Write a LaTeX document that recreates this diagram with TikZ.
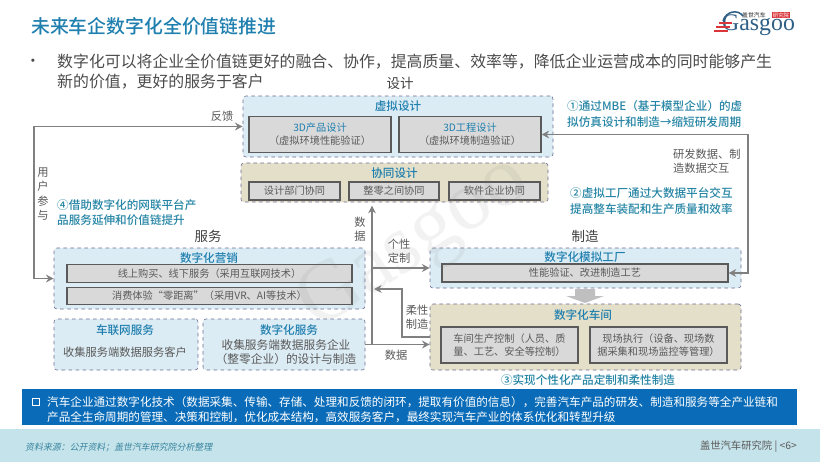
\documentclass[tikz,border=0pt]{standalone}
\usepackage{fontspec}
\setmainfont{Noto Sans CJK SC}[BoldFont={Noto Sans CJK SC Medium}]
\newfontfamily\slantcjk[FakeSlant=0.2]{Noto Sans CJK SC}
\newfontfamily\logofont{Liberation Serif}
\usetikzlibrary{arrows.meta}
\definecolor{titleblue}{HTML}{1F7FAF}
\definecolor{notegreen}{HTML}{2585A5}
\definecolor{inkgray}{HTML}{5A5A5A}
\definecolor{panelblue}{HTML}{DCECF4}
\definecolor{paneltan}{HTML}{E3DFC8}
\definecolor{boxgray}{HTML}{D9D9D9}
\definecolor{bandblue}{HTML}{0A6CB8}
\definecolor{footband}{HTML}{C5E3EA}
\definecolor{logored}{HTML}{D9353B}
\definecolor{logoblue}{HTML}{2F5F85}
\tikzset{
  panel/.style={draw=gray!85!blue,dashed,rounded corners=2.5pt,line width=.5pt},
  inbox/.style={draw=inkgray,fill=boxgray,line width=.9pt,text=inkgray,font=\fontsize{8.7}{11}\selectfont,align=center,inner sep=0pt},
  flow/.style={draw=gray,line width=1.2pt,-{Stealth[length=6.5pt,width=6.5pt]}},
  twoway/.style={flow,{Stealth[length=6.5pt,width=6.5pt]}-{Stealth[length=6.5pt,width=6.5pt]}},
  head/.style={text=titleblue,font=\fontsize{9.9}{12}\selectfont\bfseries},
  note/.style={text=notegreen,font=\fontsize{9.9}{13}\selectfont\bfseries,align=left,anchor=west,inner sep=0pt},
  lbl/.style={text=inkgray,font=\fontsize{9.6}{12}\selectfont,align=center,inner sep=0pt},
  side/.style={text=black!75,font=\fontsize{11.5}{14}\selectfont,inner sep=0pt}
}
\begin{document}
\begin{tikzpicture}[x=.3mm,y=-.3mm]
    \useasboundingbox (0,0) rectangle (820,462);
    \fill[white] (0,0) rectangle (820,462);
    \node[text=titleblue,anchor=west,inner sep=0pt,font=\fontsize{16.1}{20}\selectfont\bfseries] (title) at (31,26) {未来车企数字化全价值链推进};
    % logo
    \node[text=logoblue,anchor=west,inner sep=0pt,font=\fontsize{20.3}{21}\logofont\selectfont] (logoword) at (722,25) {Gasgoo};
    \node[text=black!70,anchor=west,inner sep=0pt,font=\fontsize{5}{6}\selectfont\bfseries] (logocn) at (742,15) {盖世汽车};
    \node[text=white,fill=logored,anchor=west,inner sep=.6pt,font=\fontsize{4.6}{5}\selectfont] (logored) at (772,15) {研究院};
    \draw[logored,line width=1.1pt] (719,23) -- (732,23);
    \draw[logored,line width=1.1pt] (716,27) -- (730,27);
    \draw[logored,line width=1.1pt] (714,31) -- (728,31);
    \draw[logoblue,line width=1.3pt] (723,21) .. controls (726,11) and (738,9) .. (743,16);
    % intro text
    \node[inkgray!80!black,anchor=center,inner sep=0pt,font=\fontsize{13}{17}\selectfont] (dot) at (33,63) {•};
    \node[text=inkgray!85!black,anchor=north west,align=left,inner sep=0pt,font=\fontsize{13.56}{17}\selectfont] (intro) at (57,54) {数字化可以将企业全价值链更好的融合、协作，提高质量、效率等，降低企业运营成本的同时能够产生\\新的价值，更好的服务于客户};
    \node[side] (design) at (400,83) {设计};
    % design panels
    \node[panel,fill=panelblue,minimum width=310*.3mm,minimum height=61*.3mm] (virt) at (398,126.5) {};
    \node[head] (virtt) at (398,106.5) {虚拟设计};
    \node[inbox,minimum width=142*.3mm,minimum height=36*.3mm] (prod) at (320,134.5) {\textcolor{titleblue}{3D产品设计}\\（虚拟环境性能验证）};
    \node[inbox,minimum width=142*.3mm,minimum height=36*.3mm] (eng) at (470,134.5) {\textcolor{titleblue}{3D工程设计}\\（虚拟环境制造验证）};
    \node[panel,fill=paneltan,minimum width=307*.3mm,minimum height=39*.3mm] (colla) at (394.5,182.5) {};
    \node[head] (collat) at (394.5,173) {协同设计};
    \node[inbox,minimum width=91*.3mm,minimum height=18*.3mm] (dept) at (294.5,191) {设计部门协同};
    \node[inbox,minimum width=90*.3mm,minimum height=18*.3mm] (parts) at (394,191) {整零之间协同};
    \node[inbox,minimum width=91*.3mm,minimum height=18*.3mm] (soft) at (494.5,191) {软件企业协同};
    % service panels
    \node[side] (service) at (208,236) {服务};
    \node[panel,fill=panelblue,minimum width=311*.3mm,minimum height=61*.3mm] (market) at (209.5,278.5) {};
    \node[head] (markett) at (209,258) {数字化营销};
    \node[inbox,minimum width=285*.3mm,minimum height=17.5*.3mm] (online) at (209.5,273.5) {线上购买、线下服务（采用互联网技术）};
    \node[inbox,minimum width=285*.3mm,minimum height=17.5*.3mm] (zero) at (209.5,296) {消费体验“零距离”（采用VR、AI等技术）};
    \node[panel,fill=panelblue,minimum width=144*.3mm,minimum height=51*.3mm] (iov) at (126,344.5) {};
    \node[head] (iovt) at (125,330) {车联网服务};
    \node[lbl] (iovx) at (125,352) {收集服务端数据服务客户};
    \node[panel,fill=panelblue,minimum width=162*.3mm,minimum height=51*.3mm] (digi) at (284,344.5) {};
    \node[head] (digit) at (289,330) {数字化服务};
    \node[lbl,font=\fontsize{10}{12}\selectfont] (digix) at (286,352) {收集服务端数据服务企业\\（整零企业）的设计与制造};
    % factory panels
    \node[side] (make) at (585,236) {制造};
    \node[panel,fill=panelblue,minimum width=311*.3mm,minimum height=40*.3mm] (sim) at (585.5,268) {};
    \node[head] (simt) at (585,257) {数字化模拟工厂};
    \node[inbox,minimum width=286*.3mm,minimum height=18*.3mm] (perf) at (585,273) {性能验证、改进制造工艺};
    \node[panel,fill=paneltan,minimum width=311*.3mm,minimum height=66*.3mm] (shop) at (585.5,337) {};
    \node[head] (shopt) at (583,315) {数字化车间};
    \node[inbox,minimum width=137*.3mm,minimum height=36*.3mm] (ctrl) at (509.5,345) {车间生产控制（人员、质\\量、工艺、安全等控制）};
    \node[inbox,minimum width=137*.3mm,minimum height=36*.3mm] (exec) at (658.5,345) {现场执行（设备、现场数\\据采集和现场监控等管理）};
    \fill[gray!50] (575,289) -- (595,289) -- (595,296) -- (604,296) -- (585,303) -- (566,296) -- (575,296) -- cycle;
    % connectors
    \coordinate (userline) at (34,200);
    \coordinate (rdline) at (748,200);
    \coordinate (hub) at (372,344);
    \coordinate (flexline) at (402,289);
    \draw[twoway] (market.west) -| (userline) |- (virt.west);
    \draw[twoway] (eng.east) -| (rdline) |- (perf.east);
    \draw[flow] (hub) -- ([yshift=-1mm]hub |- colla.south);
    \draw[flow] (hub |- sim.west) -- (sim.west);
    \draw[flow] (shop.west) -| (flexline) -- ([xshift=.6mm]hub |- flexline);
    \draw[flow] (digi.east) -- (digi.east -| shop.west);
    % labels
    \node[lbl] (feedback) at (222,116) {反馈};
    \node[lbl,font=\fontsize{9.6}{12.3}\selectfont] (userin) at (43,194) {用\\户\\参\\与};
    \node[note] (note4) at (57,212.5) {④借助数字化的网联平台产\\品服务延伸和价值链提升};
    \node[note] (note1) at (567,114) {①通过MBE（基于模型企业）的虚\\拟仿真设计和制造→缩短研发周期};
    \node[note] (note2) at (570,201) {②虚拟工厂通过大数据平台交互\\提高整车装配和生产质量和效率};
    \node[note,anchor=center] (note3) at (588,380) {③实现个性化产品定制和柔性制造};
    \node[lbl,align=left,anchor=west,font=\fontsize{9.6}{12.2}\selectfont] (rdlabel) at (673,161) {研发数据、制\\造数据交互};
    \node[lbl] (datav) at (360,229.5) {数\\据};
    \node[lbl] (custom) at (399,251.5) {个性\\定制};
    \node[lbl] (flex) at (417,317.5) {柔性\\制造};
    \node[lbl] (datah) at (396,355) {数据};
    % bottom bands
    \node[fill=bandblue,minimum width=775*.3mm,minimum height=36*.3mm,inner sep=0pt] (band) at (409.5,407) {};
    \node[draw=white,line width=1.1pt,minimum size=6.5*.3mm,inner sep=0pt] (tick) at (36,402) {};
    \node[text=white,anchor=west,align=left,inner sep=0pt,font=\fontsize{9.9}{12.8}\selectfont] (bandx) at (47,409.5) {汽车企业通过数字化技术（数据采集、传输、存储、处理和反馈的闭环，提取有价值的信息），完善汽车产品的研发、制造和服务等全产业链和\\产品全生命周期的管理、决策和控制，优化成本结构，高效服务客户，最终实现汽车产业的体系优化和转型升级};
    \node[fill=footband,minimum width=820*.3mm,minimum height=33*.3mm,inner sep=0pt] (foot) at (410,445.5) {};
    \node[text=notegreen!80!gray,anchor=west,inner sep=0pt,font=\fontsize{7.6}{9}\slantcjk\selectfont] (source) at (25,447) {资料来源：公开资料；盖世汽车研究院分析整理};
    \node[text=inkgray,anchor=east,inner sep=0pt,font=\fontsize{8.8}{10}\selectfont] (page) at (797,447) {盖世汽车研究院 | <6>};
    % watermark
    \node[text=gray,opacity=.1,rotate=33,inner sep=0pt,font=\fontsize{72}{72}\logofont\selectfont] (mark) at (415,245) {Gasgoo};
\end{tikzpicture}
\end{document}
